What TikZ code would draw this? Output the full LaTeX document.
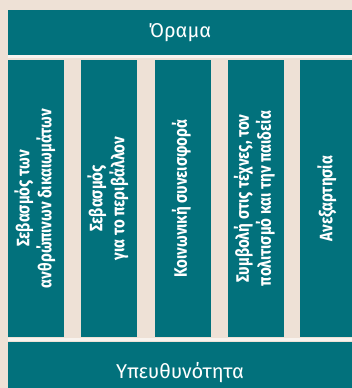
\documentclass[tikz,border=0pt]{standalone}
\usepackage{fontspec}
\setmainfont{Fira Sans}
\definecolor{petrol}{HTML}{02717C}
\definecolor{sand}{HTML}{EEE1D6}
\definecolor{glint}{HTML}{F8F3EE}
\newcommand{\squeeze}[1]{\scalebox{0.84}[1]{\begin{tabular}{@{}c@{}}#1\end{tabular}}}
\tikzset{
  bar/.style={
    fill=petrol,
    text=white,
    minimum width=344pt,
    inner sep=0pt,
    font=\fontsize{20}{24}\selectfont
  },
  pillar/.style={
    fill=petrol,
    text=white,
    rotate=90,
    minimum width=277pt,
    minimum height=56pt,
    inner sep=0pt,
    font=\fontsize{18}{22}\selectfont\bfseries
  },
  rule/.style={draw=glint, line width=3pt}
}

\begin{document}
\begin{tikzpicture}[x=1pt,y=-1pt]
\useasboundingbox (0,0) rectangle (352,388);
\clip (0,0) rectangle (352,388);
\fill[sand] (0,0) rectangle (352,388);
\node (vision) at (180,32.5) [bar,minimum height=45pt] {Όραμα};
\node (duty) at (180,373) [bar,minimum height=62pt] {Υπευθυνότητα};
\node (rights) at (36,198.5) [pillar] {\squeeze{Σεβασμός των\\ανθρώπινων δικαιωμάτων}};
\node (nature) at (109,198.5) [pillar] {\squeeze{Σεβασμός\\για το περιβάλλον}};
\node (society) at (182.5,198.5) [pillar] {\squeeze{Κοινωνική συνεισφορά}};
\node (culture) at (255.5,198.5) [pillar] {\squeeze{Συμβολή στις τέχνες, τον\\πολιτισμό και την παιδεία}};
\node (freedom) at (328,198.5) [pillar] {\squeeze{Ανεξαρτησία}};
\draw[rule] ([yshift=-1.5pt]vision.south west) -- ([yshift=-1.5pt]vision.south east);
\draw[rule] ([yshift=2.5pt]duty.north west) -- ([yshift=2.5pt]duty.north east);
\end{tikzpicture}
\end{document}
